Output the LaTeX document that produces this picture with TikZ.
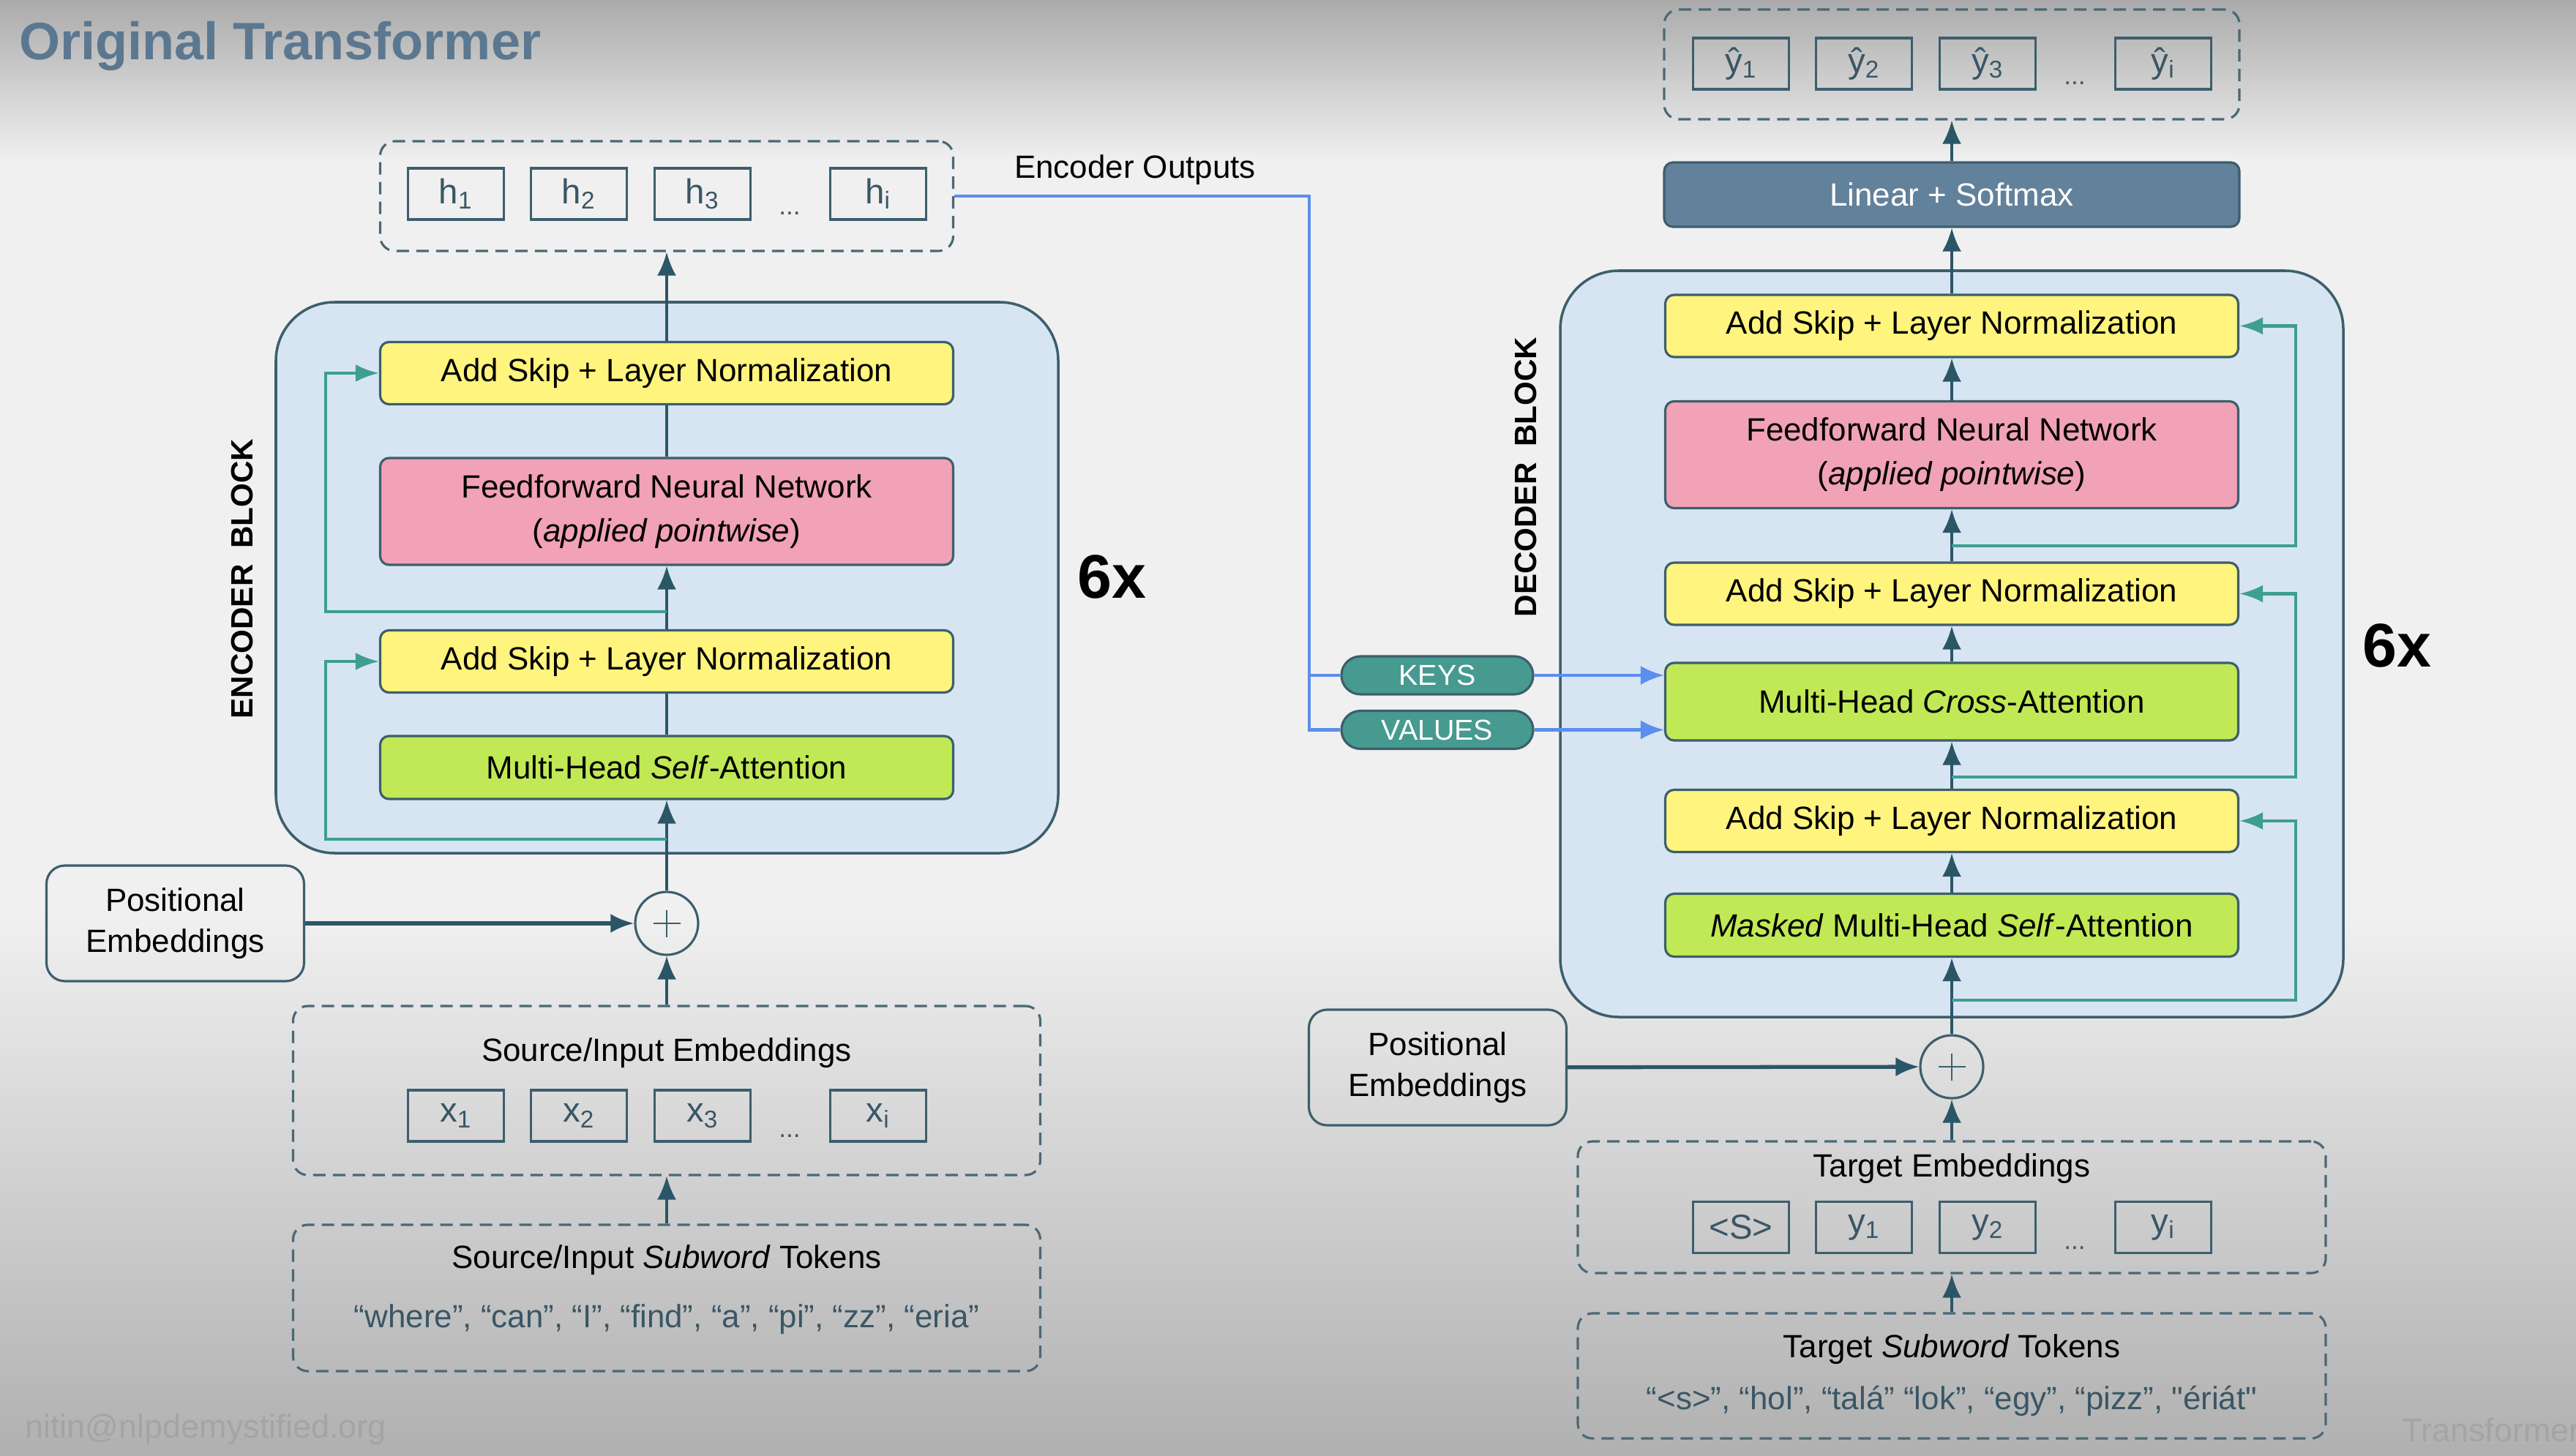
\documentclass[tikz,border=0pt]{standalone}
\usepackage{fontspec}
\setmainfont{Liberation Sans}
\newfontfamily\plainquotes{Liberation Sans}[Ligatures=TeXOff]
\usepackage{tikz}
\usetikzlibrary{arrows.meta,positioning,calc}
\definecolor{bgmid}{HTML}{F0F0F0}
\definecolor{bgtop}{HTML}{ABABAB}
\definecolor{bgbot}{HTML}{B0B0B0}
\definecolor{blockfill}{HTML}{D7E5F2}
\definecolor{edgec}{HTML}{3D5E6D}
\definecolor{flowc}{HTML}{2B5667}
\definecolor{skipc}{HTML}{3E9E91}
\definecolor{yelc}{HTML}{FFF47D}
\definecolor{pnkc}{HTML}{F1A2B6}
\definecolor{grnc}{HTML}{C1E955}
\definecolor{kvc}{HTML}{5B8EEE}
\definecolor{pillc}{HTML}{479A8F}
\definecolor{linc}{HTML}{62819B}
\definecolor{titlec}{HTML}{5B7890}
\definecolor{tokc}{HTML}{3A5666}
\definecolor{dashc}{HTML}{4B6876}
\definecolor{wmarkc}{HTML}{A4A4A4}

\begin{document}
\begin{tikzpicture}[x=1mm,y=-1mm,
  bodytext/.style={font=\fontsize{12.5}{16}\selectfont},
  stage/.style={draw=edgec, line width=0.9pt, rounded corners=1.2mm, minimum width=78.3mm, align=center, bodytext},
  addnorm/.style={stage, fill=yelc, minimum height=8.5mm},
  ffn/.style={stage, fill=pnkc, minimum height=14.6mm, font=\fontsize{12.5}{17}\selectfont},
  attn/.style={stage, fill=grnc, minimum height=8.6mm},
  block/.style={draw=edgec, line width=1pt, fill=blockfill, rounded corners=8mm},
  dashgroup/.style={draw=dashc, line width=0.9pt, dash pattern=on 1.7mm off 1mm, rounded corners=2mm, inner sep=0pt},
  tokbox/.style={draw=edgec, line width=1pt, minimum width=13.1mm, minimum height=7mm, inner sep=0pt, text=tokc, font=\fontsize{13.5}{16}\selectfont},
  posbox/.style={draw=edgec, line width=0.9pt, rounded corners=2.5mm, minimum width=35.2mm, minimum height=15.8mm, align=center, font=\fontsize{12.5}{15.9}\selectfont},
  sumnode/.style={circle, draw=edgec, line width=0.9pt, minimum size=8.6mm, inner sep=0pt},
  flowarrow/.style={draw=flowc, line width=1.1pt, -{Latex[length=3.2mm,width=2.6mm]}},
  flowline/.style={draw=flowc, line width=1.1pt},
  skiparrow/.style={draw=skipc, line width=1.3pt, -{Latex[length=3.2mm,width=2.4mm]}},
  kvline/.style={draw=kvc, line width=1.2pt},
  kvarrow/.style={kvline, -{Latex[length=3.2mm,width=2.6mm]}},
  kvpill/.style={draw=edgec, line width=0.9pt, fill=pillc, rounded corners=2.6mm, minimum width=26.2mm, minimum height=5.2mm, inner sep=0pt, text=white, font=\fontsize{11.2}{13}\selectfont},
  blocklabel/.style={rotate=90, font=\bfseries\fontsize{12}{14}\selectfont},
  repeatlabel/.style={font=\bfseries\fontsize{24}{28}\selectfont},
  dots/.style={anchor=base, text=tokc, font=\fontsize{10}{12}\selectfont}]
\useasboundingbox (0,0) rectangle (352,199);
\fill[bgmid] (0,0) rectangle (352,199);
\shade[top color=bgtop, bottom color=bgmid] (0,0) rectangle (352,22);
\shade[top color=bgmid, bottom color=bgbot] (0,125) rectangle (352,199);

\node[anchor=base west, text=titlec, font=\bfseries\fontsize{20.5}{24}\selectfont] (title) at (1.4,8.2) {Original Transformer};

\draw[block] (37.7,41.3) rectangle (144.6,116.6);
\node[blocklabel] (enclabel) at (33.1,79.1) {ENCODER\hspace{2.2mm}BLOCK};
\node[repeatlabel] (encrepeat) at (151.9,78.8) {6x};
\node[addnorm] (encnorm2) at (91.1,51.0) {Add Skip + Layer Normalization};
\node[ffn] (encffn) at (91.1,69.9) {Feedforward Neural Network\\(\textit{applied pointwise})};
\node[addnorm] (encnorm1) at (91.1,90.4) {Add Skip + Layer Normalization};
\node[attn] (encattn) at (91.1,104.9) {Multi-Head \textit{Self}-Attention};

\node[sumnode] (encsum) at (91.1,126.2) {};
\draw[edgec, line width=0.6pt] (encsum.center) +(-1.85,0) -- +(1.85,0) +(0,-1.85) -- +(0,1.85);
\node[posbox] (encpos) at (23.95,126.2) {Positional\\Embeddings};

\node[dashgroup, minimum width=102.1mm, minimum height=23.1mm] (srcemb) at (91.1,149.05) {};
\node[bodytext] (srcemblabel) at (91.1,143.9) {Source/Input Embeddings};
\node[dashgroup, minimum width=102.1mm, minimum height=20mm] (srctok) at (91.1,177.4) {};
\node[bodytext] (srctoklabel) at (91.1,172.2) {Source/Input \textit{Subword} Tokens};
\node[bodytext, text=tokc] (srctokens) at (91.1,180.3) {“where”, “can”, “I”, “find”, “a”, “pi”, “zz”, “eria”};

\node[dashgroup, minimum width=78.3mm, minimum height=15mm] (encout) at (91.1,26.8) {};
\node[bodytext] (encoutlabel) at (155.1,23.2) {Encoder Outputs};

\begin{scope}[shift={(91.1,0)}]
\foreach \i/\x in {1/-28.8,2/-12.0,3/4.9}{
  \node[tokbox] (h\i) at (\x,26.5) {h\textsubscript{\i}};
  \node[tokbox] (x\i) at (\x,152.5) {x\textsubscript{\i}};
}
\node[tokbox] (hi) at (28.9,26.5) {h\textsubscript{i}};
\node[tokbox] (xi) at (28.9,152.5) {x\textsubscript{i}};
\node[dots] (hdots) at (16.8,29.4) {...};
\node[dots] (xdots) at (16.8,155.4) {...};
\end{scope}

\draw[flowarrow, line width=1.5pt] (encpos) -- (encsum);
\draw[flowarrow] (srctok) -- (srcemb);
\draw[flowarrow] (srcemb) -- (encsum);
\draw[flowarrow] (encsum) -- (encattn);
\draw[flowline] (encattn) -- (encnorm1);
\draw[flowarrow] (encnorm1) -- (encffn);
\draw[flowline] (encffn) -- (encnorm2);
\draw[flowarrow] (encnorm2) -- (encout);
\coordinate (encsplit1) at (91.1,114.7);
\coordinate (encsplit2) at (91.1,83.6);
\draw[skiparrow] (encsplit1) -- (44.5,114.7) |- (encnorm1.west);
\draw[skiparrow] (encsplit2) -- (44.5,83.6) |- (encnorm2.west);

\draw[block] (213.2,37.0) rectangle (320.2,139.0);
\node[blocklabel] (declabel) at (208.5,65.2) {DECODER\hspace{2.2mm}BLOCK};
\node[repeatlabel] (decrepeat) at (327.5,88.2) {6x};
\node[addnorm] (decnorm3) at (266.7,44.55) {Add Skip + Layer Normalization};
\node[ffn] (decffn) at (266.7,62.15) {Feedforward Neural Network\\(\textit{applied pointwise})};
\node[addnorm] (decnorm2) at (266.7,81.15) {Add Skip + Layer Normalization};
\node[attn, minimum height=10.6mm] (deccross) at (266.7,95.9) {Multi-Head \textit{Cross}-Attention};
\node[addnorm] (decnorm1) at (266.7,112.2) {Add Skip + Layer Normalization};
\node[attn] (decmask) at (266.7,126.45) {\textit{Masked} Multi-Head \textit{Self}-Attention};

\node[stage, fill=linc, text=white, minimum width=78.6mm, minimum height=8.8mm] (declin) at (266.7,26.6) {Linear + Softmax};
\node[dashgroup, minimum width=78.6mm, minimum height=15mm] (decout) at (266.7,8.8) {};

\node[sumnode] (decsum) at (266.7,145.8) {};
\draw[edgec, line width=0.6pt] (decsum.center) +(-1.85,0) -- +(1.85,0) +(0,-1.85) -- +(0,1.85);
\node[posbox] (decpos) at (196.45,145.9) {Positional\\Embeddings};

\node[dashgroup, minimum width=102.2mm, minimum height=18mm] (tgtemb) at (266.7,165.0) {};
\node[bodytext] (tgtemblabel) at (266.7,159.7) {Target Embeddings};
\node[dashgroup, minimum width=102.2mm, minimum height=17.1mm] (tgttok) at (266.7,188.05) {};
\node[bodytext] (tgttoklabel) at (266.7,184.4) {Target \textit{Subword} Tokens};
\node[bodytext, text=tokc] (tgttokens) at (266.7,191.5) {“<s>”, “hol”, “talá” “lok”, “egy”, “pizz”, {\plainquotes "ériát"}};

\begin{scope}[shift={(266.7,0)}]
\foreach \i/\x in {1/-28.8,2/-12.0,3/4.9}{
  \node[tokbox] (yhat\i) at (\x,8.7) {ŷ\textsubscript{\i}};
}
\node[tokbox] (yhati) at (28.9,8.7) {ŷ\textsubscript{i}};
\node[tokbox] (ystart) at (-28.8,167.75) {<S>};
\node[tokbox] (y1) at (-12.0,167.75) {y\textsubscript{1}};
\node[tokbox] (y2) at (4.9,167.75) {y\textsubscript{2}};
\node[tokbox] (yi) at (28.9,167.75) {y\textsubscript{i}};
\node[dots] (yhatdots) at (16.8,11.6) {...};
\node[dots] (ydots) at (16.8,170.7) {...};
\end{scope}

\draw[flowarrow, line width=1.5pt] (decpos) -- (decsum);
\draw[flowarrow] (tgttok) -- (tgtemb);
\draw[flowarrow] (tgtemb) -- (decsum);
\draw[flowarrow] (decsum) -- (decmask);
\draw[flowarrow] (decmask) -- (decnorm1);
\draw[flowarrow] (decnorm1) -- (deccross);
\draw[flowarrow] (deccross) -- (decnorm2);
\draw[flowarrow] (decnorm2) -- (decffn);
\draw[flowarrow] (decffn) -- (decnorm3);
\draw[flowarrow] (decnorm3) -- (declin);
\draw[flowarrow] (declin) -- (decout);
\coordinate (decsplit1) at (266.7,136.7);
\coordinate (decsplit2) at (266.7,106.2);
\coordinate (decsplit3) at (266.7,74.6);
\draw[skiparrow] (decsplit1) -- (313.7,136.7) |- (decnorm1.east);
\draw[skiparrow] (decsplit2) -- (313.7,106.2) |- (decnorm2.east);
\draw[skiparrow] (decsplit3) -- (313.7,74.6) |- (decnorm3.east);

\node[kvpill] (keys) at (196.4,92.3) {KEYS};
\node[kvpill] (values) at (196.4,99.75) {VALUES};
\coordinate (kvsplit) at (178.9,92.3);
\draw[kvline] (encout.east) -| (kvsplit) |- (values.west);
\draw[kvline] (kvsplit) -- (keys.west);
\draw[kvarrow] (keys.east) -- (keys.east -| deccross.west);
\draw[kvarrow] (values.east) -- (values.east -| deccross.west);

\node[anchor=west, text=wmarkc, font=\fontsize{12.8}{15}\selectfont] (mailmark) at (2.2,195.4) {nitin@nlpdemystified.org};
\node[anchor=west, text=wmarkc, font=\fontsize{12.8}{15}\selectfont] (topicmark) at (327.0,195.4) {Transformer};
\end{tikzpicture}
\end{document}
